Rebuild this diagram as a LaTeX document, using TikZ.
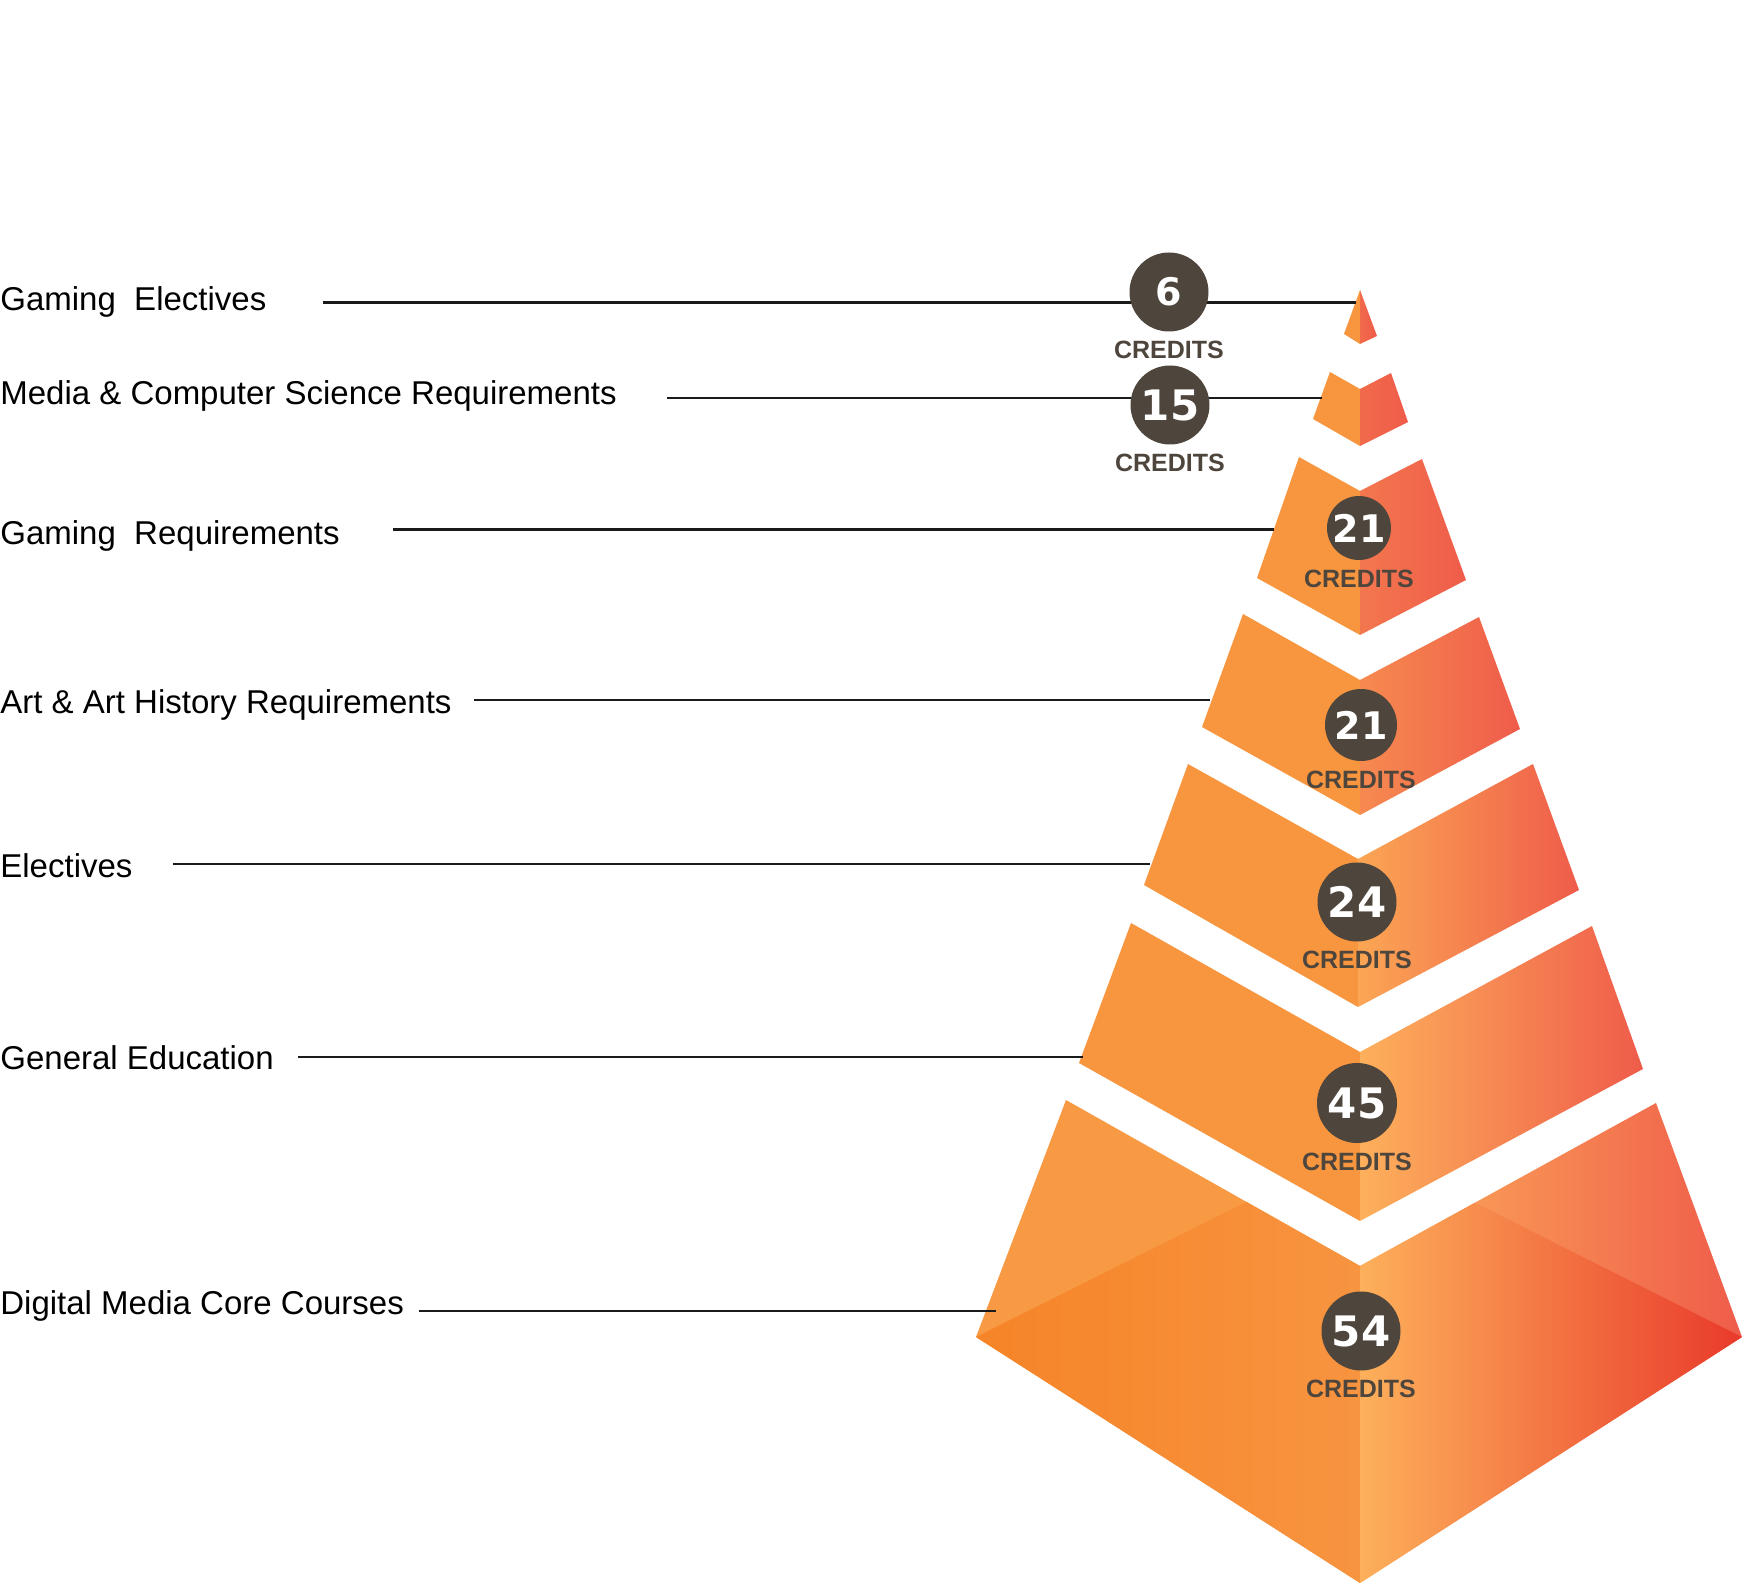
\documentclass[tikz,border=0pt]{standalone}
\usepackage{fontspec}
\setmainfont{Liberation Sans}
\newfontfamily\numfont{DejaVu Sans}
\usetikzlibrary{positioning}

\definecolor{facel}{HTML}{F8963F}
\definecolor{facer}{HTML}{EF5C4A}
\definecolor{redA}{HTML}{F16A4B}
\definecolor{redB}{HTML}{F3774E}
\definecolor{redC}{HTML}{F68A50}
\definecolor{redD}{HTML}{F27250}
\definecolor{lightA}{HTML}{FBA654}
\definecolor{lightB}{HTML}{FDB05B}
\definecolor{midB}{HTML}{F58A50}
\definecolor{baseL}{HTML}{F89944}
\definecolor{lowL}{HTML}{F68428}
\definecolor{lowLc}{HTML}{F79440}
\definecolor{lowM}{HTML}{F99E4C}
\definecolor{lowR}{HTML}{E93A2B}
\definecolor{badgec}{HTML}{4E463D}
\definecolor{leadc}{HTML}{1A1A1A}

\begin{document}
\begin{tikzpicture}[x=0.5pt,y=-0.5pt]%
\tikzstyle{lbl}=[anchor=base west,inner sep=0,font=\fontsize{16.5}{20}\selectfont]
\tikzstyle{lead}=[line width=1.2pt,draw=leadc]
\tikzstyle{badge}=[circle,fill=badgec,text=white,inner sep=0,minimum size=39.5pt,font=\numfont\bfseries\fontsize{21}{24}\selectfont]
\tikzstyle{smallbadge}=[badge,font=\numfont\bfseries\fontsize{19}{22}\selectfont]
\tikzstyle{credits}=[inner sep=0,text=badgec,font=\bfseries\fontsize{12.5}{14}\selectfont]
\tikzstyle{lface}=[fill=facel]

\fill[white] (0,0) rectangle (1742,1583);
\useasboundingbox (0,0) rectangle (1742,1583);

% block 1 (tip)
\fill[lface] (1360,290) -- (1360,344) -- (1344,334) -- cycle;
\shade[left color=redA, right color=facer] (1360,290) -- (1377,336) -- (1360,344) -- cycle;
% block 2
\fill[lface] (1330,372) -- (1360,389) -- (1360,446) -- (1313,419) -- cycle;
\shade[left color=redA, right color=facer] (1360,389) -- (1391,373) -- (1408,422) -- (1360,446) -- cycle;
% block 3
\fill[lface] (1299,457) -- (1360,491) -- (1360,635) -- (1257,578) -- cycle;
\shade[left color=redB, right color=facer] (1360,491) -- (1422,459) -- (1466,580) -- (1360,635) -- cycle;
% block 4
\fill[lface] (1243,614) -- (1360,680) -- (1360,815) -- (1202,727) -- cycle;
\shade[left color=redC, middle color=redD, right color=facer] (1360,680) -- (1479,617) -- (1520,729) -- (1360,815) -- cycle;
% block 5
\fill[lface] (1188,764) -- (1358,859) -- (1358,1007) -- (1144,885) -- cycle;
\shade[left color=lightA, middle color=redD, right color=facer] (1358,859) -- (1533,764) -- (1579,890) -- (1358,1007) -- cycle;
% block 6
\fill[lface] (1131,923) -- (1360,1052) -- (1360,1221) -- (1079,1063) -- cycle;
\shade[left color=lightB, middle color=midB, right color=facer] (1360,1052) -- (1592,926) -- (1643,1069) -- (1360,1221) -- cycle;
% block 7 (base)
\fill[baseL] (1066,1100) -- (1360,1266) -- (1360,1583) -- (976,1337) -- cycle;
\shade[left color=lightB, middle color=midB, right color=facer] (1360,1266) -- (1656,1103) -- (1742,1337) -- (1360,1583) -- cycle;
\begin{scope}
\clip (1066,1100) -- (1360,1266) -- (1656,1103) -- (1742,1337) -- (1360,1583) -- (976,1337) -- cycle;
\shade[left color=lowL, right color=lowLc] (976,1337) -- (1360,1145) -- (1360,1583) -- cycle;
\shade[left color=lightB, middle color=lowM, right color=lowR] (1360,1145) -- (1742,1337) -- (1360,1583) -- cycle;
\end{scope}

% labels
\node[lbl] (gel) at (0,311) {Gaming\ \ Electives};
\node[lbl] (mcs) at (0,405) {Media \& Computer Science Requirements};
\node[lbl] (grq) at (0,545) {Gaming\ \ Requirements};
\node[lbl] (aah) at (0,713) {Art \& Art History Requirements};
\node[lbl] (ele) at (0,877) {Electives};
\node[lbl] (gen) at (0,1069) {General Education};
\node[lbl] (dmc) at (0,1314) {Digital Media Core Courses};

% leader lines
\coordinate (gel-s) at (323,302.5);  \coordinate (gel-e) at (1356,302.5);
\coordinate (mcs-s) at (667,398);    \coordinate (mcs-e) at (1322,398);
\coordinate (grq-s) at (393,529.5);  \coordinate (grq-e) at (1274,529.5);
\coordinate (aah-s) at (474,700);    \coordinate (aah-e) at (1210,700);
\coordinate (ele-s) at (173,864);    \coordinate (ele-e) at (1150,864);
\coordinate (gen-s) at (298,1057);   \coordinate (gen-e) at (1083,1057);
\coordinate (dmc-s) at (419,1311);   \coordinate (dmc-e) at (996,1311);
\foreach \l in {gel,mcs,grq,aah,ele,gen,dmc}
  \draw[lead] (\l-s) -- (\l-e);

% credit badges
\node[smallbadge] (c6) at (1169,292) {6};
\node[badge] (c15) at (1170,405) {15};
\node[smallbadge,minimum size=32pt] (c21a) at (1359,528) {21};
\node[smallbadge,minimum size=36pt] (c21b) at (1361,725) {21};
\node[badge] (c24) at (1357,902) {24};
\node[badge,minimum size=40pt] (c45) at (1357,1103) {45};
\node[badge] (c54) at (1361,1331) {54};
\foreach \c in {c6,c15,c21a,c21b,c24,c45,c54}
  \node[credits,below=4.5pt of \c] (\c-t) {CREDITS};
\end{tikzpicture}
\end{document}
